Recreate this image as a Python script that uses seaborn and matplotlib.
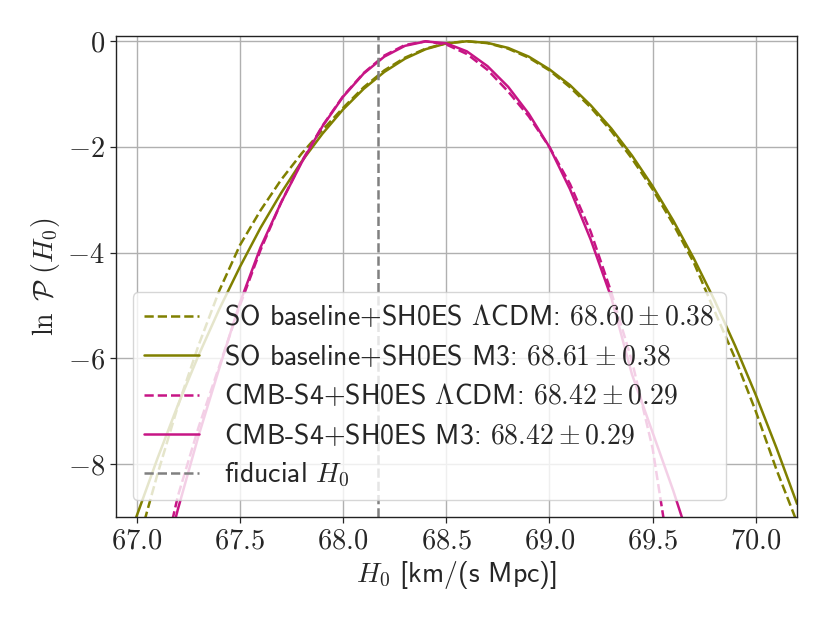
import matplotlib
matplotlib.use("Agg")
import matplotlib.pyplot as plt
import seaborn as sns
from matplotlib.ticker import FuncFormatter, MultipleLocator

# H0 grid (km/s/Mpc) and log-likelihood values
h0 = [66.9, 67.0, 67.1, 67.2, 67.3, 67.4, 67.5, 67.6, 67.7, 67.8, 67.9,
      68.0, 68.1, 68.2, 68.3, 68.4, 68.5, 68.6, 68.7, 68.8, 68.9,
      69.0, 69.1, 69.2, 69.3, 69.4, 69.5, 69.6, 69.7, 69.8, 69.9,
      70.0, 70.1, 70.2]

so_lcdm = [-11.0, -9.6, -8.2, -6.9, -5.75, -4.72, -3.86, -3.2, -2.62, -2.12, -1.68,
           -1.26, -0.87, -0.55, -0.31, -0.14, -0.035, 0.0, -0.035, -0.14, -0.31,
           -0.55, -0.87, -1.25, -1.70, -2.22, -2.80, -3.46, -4.19, -5.1, -6.0,
           -7.0, -8.1, -9.1]

so_m3 = [-10.12, -8.98, -7.90, -6.88, -5.94, -5.07, -4.27, -3.53, -2.87, -2.27, -1.75,
         -1.29, -0.90, -0.58, -0.33, -0.15, -0.04, 0.0, -0.03, -0.125, -0.29,
         -0.53, -0.83, -1.21, -1.65, -2.16, -2.74, -3.39, -4.11, -4.90, -5.76,
         -6.69, -7.69, -8.75]

s4_lcdm = [-14.5, -12.5, -10.3, -8.6, -7.3, -6.15, -5.0, -3.95, -3.05, -2.27, -1.6,
           -1.04, -0.6, -0.27, -0.07, 0.0, -0.06, -0.24, -0.54, -0.95, -1.42,
           -2.0, -2.7, -3.6, -4.75, -6.05, -7.7, -10.2, -13.0, -15.0, -17.0,
           -19.0, -21.0, -23.0]

s4_m3 = [-13.7, -12.0, -10.36, -8.85, -7.46, -6.19, -4.95, -3.9, -3.05, -2.29, -1.61,
         -1.05, -0.61, -0.29, -0.086, -0.002, -0.038, -0.19, -0.47, -0.86, -1.37,
         -2.0, -2.8, -3.75, -4.85, -6.3, -7.4, -8.5, -9.7, -11.0, -12.4,
         -13.9, -15.5, -17.2]

h0_fiducial = 68.17

labels = [
    r"SO baseline+SH0ES $\Lambda$CDM: $68.60 \pm 0.38$",
    r"SO baseline+SH0ES M3: $68.61 \pm 0.38$",
    r"CMB-S4+SH0ES $\Lambda$CDM: $68.42 \pm 0.29$",
    r"CMB-S4+SH0ES M3: $68.42 \pm 0.29$",
    r"fiducial $H_0$",
]

olive = "#808000"
pink = "#c71585"

sns.set_style("ticks")
plt.rcParams["font.family"] = ["cmss10", "DejaVu Sans"]
plt.rcParams["mathtext.fontset"] = "cm"
plt.rcParams["axes.unicode_minus"] = False
plt.rcParams["axes.formatter.use_mathtext"] = True

fig = plt.figure(figsize=(8.3, 6.23), dpi=100)
ax = fig.add_axes([0.1398, 0.1701, 0.8205, 0.7721])

lw = 1.8
sns.lineplot(x=h0, y=so_lcdm, ax=ax, color=olive, lw=lw, linestyle="--", label=labels[0])
sns.lineplot(x=h0, y=so_m3, ax=ax, color=olive, lw=lw, label=labels[1])
sns.lineplot(x=h0, y=s4_lcdm, ax=ax, color=pink, lw=lw, linestyle="--", label=labels[2])
sns.lineplot(x=h0, y=s4_m3, ax=ax, color=pink, lw=lw, label=labels[3])
ax.axvline(h0_fiducial, color="gray", lw=lw, linestyle="--", label=labels[4])

ax.set_xlim(66.9, 70.2)
ax.set_ylim(-9.0, 0.1)
ax.xaxis.set_major_locator(MultipleLocator(0.5))
ax.yaxis.set_major_locator(MultipleLocator(2))
ax.xaxis.set_major_formatter(FuncFormatter(lambda v, p: f"${v:.1f}$"))
ax.yaxis.set_major_formatter(FuncFormatter(lambda v, p: f"${v:.0f}$"))
ax.tick_params(labelsize=20.5, length=4.5, width=0.9, direction="out")

ax.grid(True, color="#b0b0b0", lw=1.0)
ax.set_axisbelow(True)
for s in ax.spines.values():
    s.set_visible(True)
    s.set_color("#222222")
    s.set_linewidth(1.0)

ax.set_xlabel(r"$H_0$ [km/(s Mpc)]", fontsize=20)
ax.set_ylabel(r"$\ln\ \mathcal{P}\ (H_0)$", fontsize=20)

ax.legend(loc="lower left", fontsize=20, framealpha=0.8, handlelength=2.0,
          handletextpad=0.9, labelspacing=0.45, borderaxespad=0.6)

fig.savefig("out.png", dpi=100)
